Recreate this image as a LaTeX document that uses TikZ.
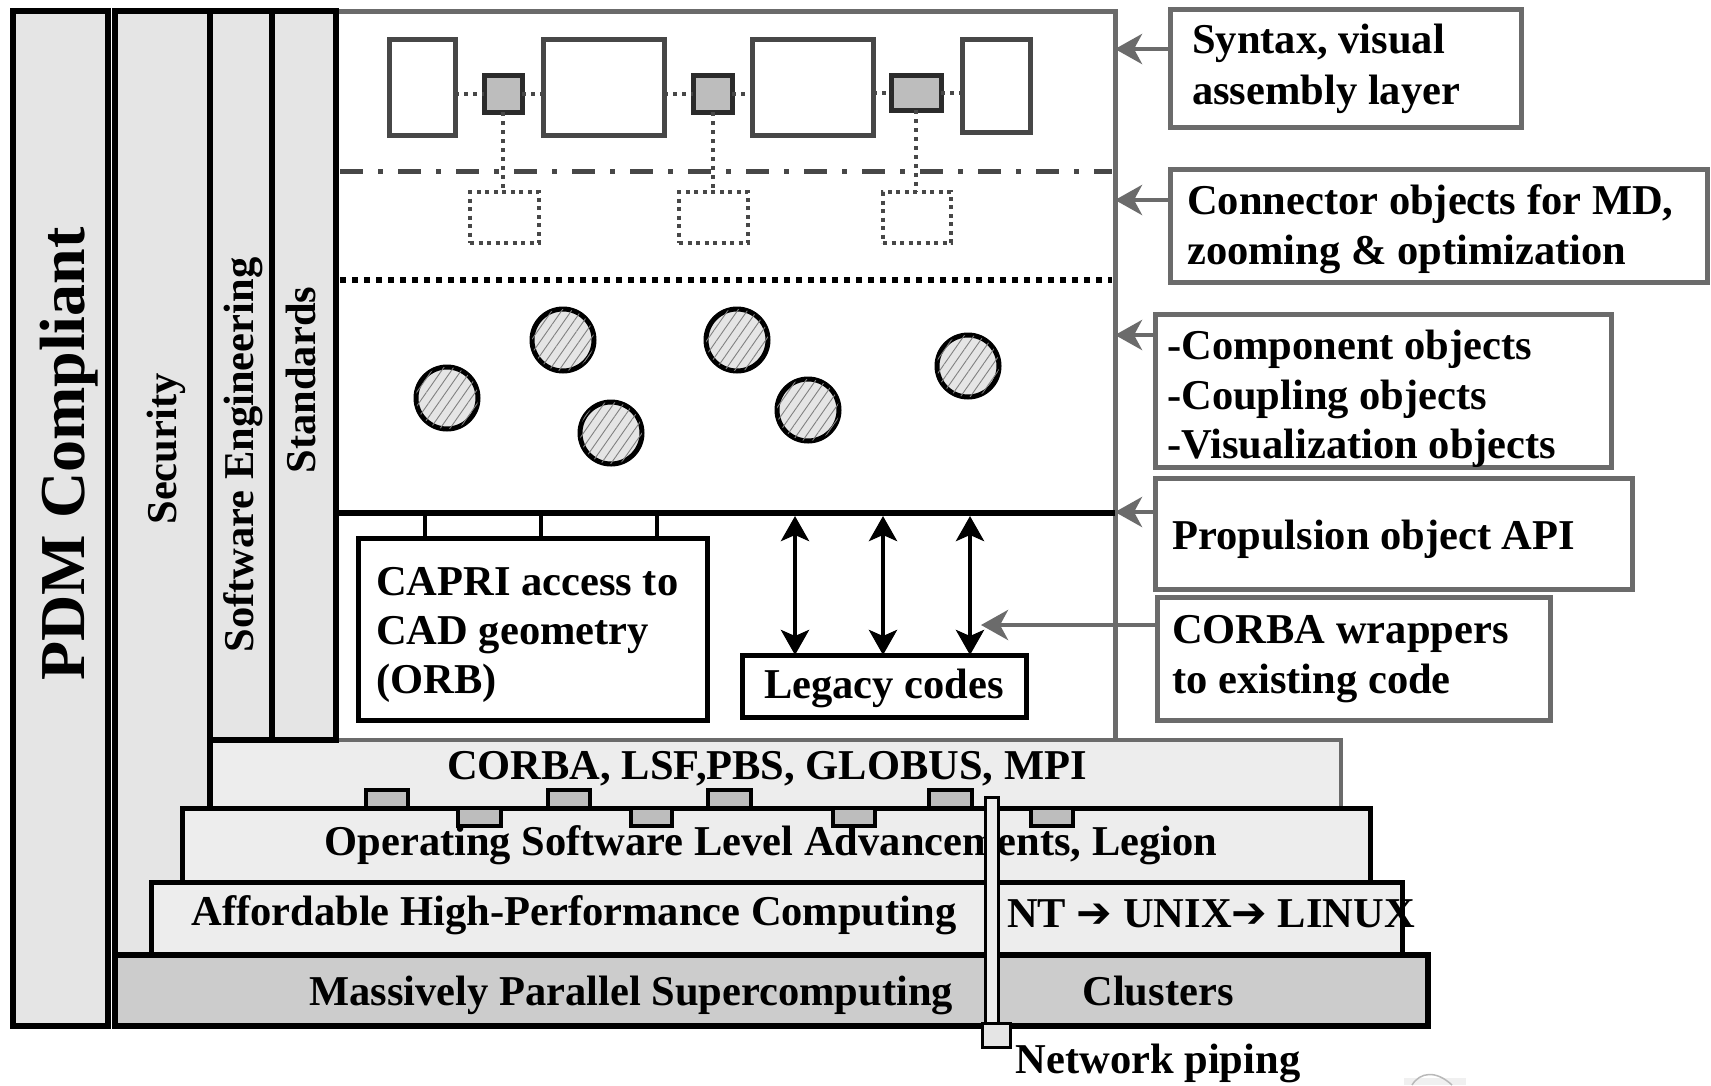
\documentclass[tikz,border=0pt]{standalone}
\usepackage{fontspec}
\setmainfont{Liberation Serif}
\newfontfamily\arrowfont{DejaVu Sans}
\usetikzlibrary{arrows.meta,fit,patterns.meta}

\definecolor{colfill}{gray}{0.90}
\definecolor{layfill}{gray}{0.93}
\definecolor{basefill}{gray}{0.80}
\definecolor{rimgray}{gray}{0.42}
\definecolor{darkrim}{gray}{0.28}
\definecolor{plugfill}{gray}{0.74}
\definecolor{ballfill}{gray}{0.90}
\definecolor{hatchgray}{gray}{0.50}

\newcommand\labelfont{\fontsize{42.5}{51}\selectfont\bfseries}
\newcommand\titlefont{\fontsize{64}{70}\selectfont\bfseries}

\begin{document}
\begin{tikzpicture}[x=1pt, y=-1pt,
  rect/.style={inner sep=0pt, outer sep=0pt},
  column/.style={rect, draw=black, line width=5.5pt, fill=colfill},
  layer/.style={rect, draw=black, line width=5pt, fill=layfill},
  panel/.style={rect, draw=rimgray, line width=5pt, fill=white},
  note/.style={rect, draw=rimgray, line width=5pt, fill=white},
  plainbox/.style={rect, draw=black, line width=5pt, fill=white},
  widget/.style={rect, draw=darkrim, line width=5pt, fill=white},
  port/.style={rect, draw=darkrim!60!black, line width=5pt, fill=plugfill},
  ghost/.style={rect, draw=darkrim, line width=4pt, dash pattern=on 4pt off 4.5pt},
  plug/.style={rect, draw=black, line width=4.5pt, fill=plugfill},
  ball/.style={circle, inner sep=0pt, minimum size=62pt, draw=black, line width=5pt,
    fill=ballfill, postaction={pattern={Lines[angle=55,distance=8pt,line width=0.9pt]},
    pattern color=hatchgray}},
  txt/.style={inner sep=0pt, font=\labelfont},
  vtxt/.style={txt, rotate=90, anchor=base},
  pointer/.style={draw=rimgray, line width=4.5pt, -{Stealth[length=27pt,width=30pt,inset=8pt]}},
  twoway/.style={draw=black, line width=4.5pt,
    {Stealth[length=25pt,width=28pt,inset=6pt]}-{Stealth[length=25pt,width=28pt,inset=6pt]}},
  tick/.style={draw=black, line width=4pt},
  dots/.style={draw=darkrim, line width=4pt, dash pattern=on 4pt off 5pt},
]
\useasboundingbox[fill=white] (0,0) rectangle (1711,1085);

% ---------- framework panel and middleware layer ----------
\node[panel, fit={(336,11)(1115,740)}] (main) {};
\node[layer, draw=rimgray, line width=4pt, fit={(210,740)(1341,808)}] (mw) {};

% ---------- vertical pillars ----------
\node[column, fit={(13,11)(108,1026)}] (pdm) {};
\node[column, fit={(115,11)(210,1026)}] (sec) {};
\node[column, fit={(210,11)(272,740)}] (swe) {};
\node[column, fit={(272,11)(336,740)}] (std) {};

% ---------- visual assembly layer ----------
\coordinate (ddL) at (340,171);
\coordinate (ddR) at (1112,171);
\draw[draw=darkrim, line width=5pt, dash pattern=on 23pt off 15pt on 5pt off 15pt] (ddL) -- (ddR);
\coordinate (dtL) at (340,280);
\coordinate (dtR) at (1112,280);
\draw[black, line width=6pt, dash pattern=on 6pt off 6pt] (dtL) -- (dtR);

\node[widget, fit={(389,39)(455,135)}] (w1) {};
\node[widget, fit={(543,39)(664,135)}] (w2) {};
\node[widget, fit={(752,39)(873,135)}] (w3) {};
\node[widget, fit={(962,39)(1030,132)}] (w4) {};
\node[port, fit={(484,75)(522,112)}] (p1) {};
\node[port, fit={(693,75)(732,112)}] (p2) {};
\node[port, fit={(891,75)(941,110)}] (p3) {};
\node[ghost, fit={(470,192)(539,243)}] (g1) {};
\node[ghost, fit={(679,192)(748,243)}] (g2) {};
\node[ghost, fit={(883,192)(951,243)}] (g3) {};

\draw[dots] (w1.east |- p1.west) -- (p1.west);
\draw[dots] (p1.east) -- (p1.east -| w2.west);
\draw[dots] (w2.east |- p2.west) -- (p2.west);
\draw[dots] (p2.east) -- (p2.east -| w3.west);
\draw[dots] (w3.east |- p3.west) -- (p3.west);
\draw[dots] (p3.east) -- (p3.east -| w4.west);
\draw[dots] (p1.south) -- (p1.south |- g1.north);
\draw[dots] (p2.south) -- (p2.south |- g2.north);
\draw[dots] (p3.south) -- (p3.south |- g3.north);

% ---------- component objects ----------
\node[ball] (c1) at (447,398) {};
\node[ball] (c2) at (563,340) {};
\node[ball] (c3) at (611,433) {};
\node[ball] (c4) at (737,340) {};
\node[ball] (c5) at (808,410) {};
\node[ball] (c6) at (968,366) {};

% ---------- object API line, CAPRI and legacy codes ----------
\coordinate (apiL) at (336,513);
\coordinate (apiR) at (1115,513);
\draw[black, line width=6pt] (apiL) -- (apiR);

\node[plainbox, fit={(358,538)(707,720)}] (capri) {};
\node[plainbox, fit={(742,655)(1026,717)}] (legacy) {};
\coordinate (t1) at (425,513);
\coordinate (t2) at (541,513);
\coordinate (t3) at (657,513);
\draw[tick] (t1) -- (t1 |- capri.north);
\draw[tick] (t2) -- (t2 |- capri.north);
\draw[tick] (t3) -- (t3 |- capri.north);
\coordinate (d1) at (795,516);
\coordinate (d2) at (883,516);
\coordinate (d3) at (970,516);
\draw[twoway] (d1) -- (d1 |- legacy.north);
\draw[twoway] (d2) -- (d2 |- legacy.north);
\draw[twoway] (d3) -- (d3 |- legacy.north);

\node[txt, anchor=base west] (cap1) at (376,595) {CAPRI access to};
\node[txt, anchor=base west] (cap2) at (376,644) {CAD geometry};
\node[txt, anchor=base west] (cap3) at (376,693) {(ORB)};
\node[txt, anchor=base] (legt) at (884,698) {Legacy codes};

% ---------- annotation boxes on the right ----------
\node[note, fit={(1170,9)(1521,127)}] (syn) {};
\node[note, fit={(1170,169)(1707,282)}] (con) {};
\node[note, fit={(1155,314)(1611,467)}] (cmp) {};
\node[note, fit={(1155,478)(1632,589)}] (prop) {};
\node[note, fit={(1157,597)(1550,720)}] (wrp) {};

\node[txt, anchor=base west] (syn1) at (1192,53) {Syntax, visual};
\node[txt, anchor=base west] (syn2) at (1192,104) {assembly layer};
\node[txt, anchor=base west] (con1) at (1187,214) {Connector objects for MD,};
\node[txt, anchor=base west] (con2) at (1187,264) {zooming \& optimization};
\node[txt, anchor=base west] (cmp1) at (1167,359) {-Component objects};
\node[txt, anchor=base west] (cmp2) at (1167,409) {-Coupling objects};
\node[txt, anchor=base west] (cmp3) at (1167,458) {-Visualization objects};
\node[txt, anchor=base west] (prop1) at (1172,549) {Propulsion object API};
\node[txt, anchor=base west] (wrp1) at (1172,643) {CORBA wrappers};
\node[txt, anchor=base west] (wrp2) at (1172,693) {to existing code};

\coordinate (synA) at (syn.west |- 0,49);
\coordinate (conA) at (con.west |- 0,200);
\coordinate (cmpA) at (cmp.west |- 0,335);
\coordinate (propA) at (prop.west |- 0,512);
\coordinate (wrpA) at (wrp.west |- 0,625);
\coordinate (wrpT) at (981,625);
\draw[pointer] (synA) -- (synA -| main.east);
\draw[pointer] (conA) -- (conA -| main.east);
\draw[pointer] (cmpA) -- (cmpA -| main.east);
\draw[pointer] (propA) -- (propA -| main.east);
\draw[pointer] (wrpA) -- (wrpT);

% ---------- computing layers ----------
\node[layer, fit={(182,808)(1370,882)}] (os) {};
\node[layer, fit={(151,882)(1402,955)}] (hpc) {};
\node[layer, fill=basefill, line width=5.5pt, fit={(115,955)(1428,1026)}] (mpp) {};

\node[plug, fit={(366,790)(408,808)}] (u1) {};
\node[plug, fit={(548,790)(590,808)}] (u2) {};
\node[plug, fit={(708,790)(751,808)}] (u3) {};
\node[plug, fit={(929,790)(972,808)}] (u4) {};
\node[plug, fit={(458,808)(501,826)}] (l1) {};
\node[plug, fit={(631,808)(672,826)}] (l2) {};
\node[plug, fit={(833,808)(875,826)}] (l3) {};
\node[plug, fit={(1031,808)(1073,826)}] (l4) {};

\node[txt, anchor=base] (mwt) at (767,779) {CORBA, LSF,PBS, GLOBUS, MPI};
\node[txt, anchor=base] (ost) at (771,855) {Operating Software Level Advancements, Legion};
\node[txt, anchor=base] (hpct) at (574,925) {Affordable High-Performance Computing};
\node[txt, anchor=base west] (ost2) at (1007,927)
  {NT {\arrowfont\mdseries ➔} UNIX{\arrowfont\mdseries ➔} LINUX};
\node[txt, anchor=base] (mppt) at (631,1005) {Massively Parallel Supercomputing};
\node[txt, anchor=base] (clt) at (1158,1005) {Clusters};

% ---------- network piping ----------
\node[rect, draw=black, line width=3pt, fill=layfill, fit={(985,797)(998,1023)}] (pipe) {};
\node[rect, draw=black, line width=3pt, fill=colfill, fit={(982,1023)(1010,1047)}] (pipefoot) {};
\node[txt, anchor=base] (pipet) at (1158,1073) {Network piping};

% ---------- pillar titles ----------
\node[vtxt, font=\titlefont] (pdmt) at (84,454) {PDM Compliant};
\node[vtxt] (sect) at (176,449) {Security};
\node[vtxt] (swet) at (253,455) {Software Engineering};
\node[vtxt] (stdt) at (315,380) {Standards};

% ---------- faint edge fragment ----------
\fill[gray!12] (1404,1085) -- (1404,1078) -- (1466,1078) -- (1466,1085) -- cycle;
\draw[gray!55, line width=1.5pt] (1412,1085) .. controls (1420,1072) and (1436,1070) .. (1452,1085);
\end{tikzpicture}
\end{document}
